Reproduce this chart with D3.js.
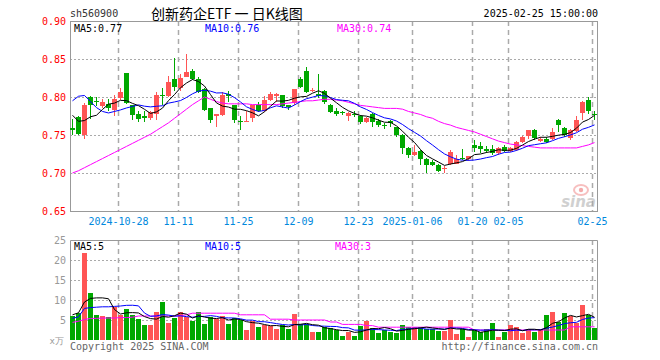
<!DOCTYPE html>
<html>
<head>
<meta charset="utf-8">
<script src="https://cdn.jsdelivr.net/npm/d3@7"></script>
<style>
  body { margin: 0; background: #fff; }
  svg { display: block; }
</style>
</head>
<body>
<div id="chart"></div>
<script>
// trading days shown (88 candles)
var dates = [
  "2024-10-16","2024-10-17","2024-10-18","2024-10-21","2024-10-22","2024-10-23","2024-10-24","2024-10-25",
  "2024-10-28","2024-10-29","2024-10-30","2024-10-31","2024-11-01","2024-11-04","2024-11-05","2024-11-06",
  "2024-11-07","2024-11-08","2024-11-11","2024-11-12","2024-11-13","2024-11-14","2024-11-15","2024-11-18",
  "2024-11-19","2024-11-20","2024-11-21","2024-11-22","2024-11-25","2024-11-26","2024-11-27","2024-11-28",
  "2024-11-29","2024-12-02","2024-12-03","2024-12-04","2024-12-05","2024-12-06","2024-12-09","2024-12-10",
  "2024-12-11","2024-12-12","2024-12-13","2024-12-16","2024-12-17","2024-12-18","2024-12-19","2024-12-20",
  "2024-12-23","2024-12-24","2024-12-25","2024-12-26","2024-12-27","2024-12-30","2024-12-31","2025-01-02",
  "2025-01-03","2025-01-06","2025-01-07","2025-01-08","2025-01-09","2025-01-10","2025-01-13","2025-01-14",
  "2025-01-15","2025-01-16","2025-01-17","2025-01-20","2025-01-21","2025-01-22","2025-01-23","2025-01-24",
  "2025-01-27","2025-02-05","2025-02-06","2025-02-07","2025-02-10","2025-02-11","2025-02-12","2025-02-13",
  "2025-02-14","2025-02-17","2025-02-18","2025-02-19","2025-02-20","2025-02-21","2025-02-24","2025-02-25"
];

var open = [
  0.759,0.774,0.751,0.800,0.795,0.789,0.791,0.783,0.799,0.832,0.789,0.778,0.775,0.772,0.777,0.802,
  0.802,0.824,0.812,0.827,0.834,0.824,0.811,0.785,0.775,0.777,0.804,0.789,0.769,0.768,0.772,0.789,
  0.781,0.796,0.802,0.802,0.789,0.791,0.824,0.834,0.808,0.804,0.808,0.790,0.781,0.780,0.775,0.777,
  0.775,0.768,0.778,0.769,0.763,0.768,0.760,0.750,0.733,0.724,0.729,0.719,0.715,0.711,0.705,0.712,
  0.713,0.720,0.718,0.737,0.736,0.732,0.731,0.726,0.734,0.729,0.731,0.742,0.748,0.756,0.743,0.745,
  0.745,0.770,0.759,0.746,0.756,0.780,0.796,0.778
];
var high = [
  0.771,0.775,0.792,0.801,0.800,0.798,0.798,0.803,0.812,0.832,0.790,0.782,0.781,0.781,0.807,0.812,
  0.827,0.851,0.830,0.856,0.837,0.826,0.812,0.786,0.778,0.807,0.808,0.790,0.775,0.781,0.790,0.794,
  0.801,0.807,0.805,0.803,0.790,0.811,0.826,0.840,0.812,0.830,0.809,0.791,0.785,0.782,0.780,0.781,
  0.776,0.774,0.779,0.771,0.766,0.770,0.761,0.751,0.734,0.737,0.730,0.720,0.717,0.712,0.709,0.730,
  0.724,0.731,0.723,0.744,0.741,0.736,0.737,0.734,0.737,0.734,0.742,0.749,0.757,0.758,0.747,0.748,
  0.759,0.771,0.761,0.758,0.775,0.795,0.800,0.782
];
var low = [
  0.750,0.750,0.745,0.771,0.788,0.786,0.782,0.775,0.796,0.791,0.770,0.767,0.767,0.770,0.770,0.790,
  0.800,0.808,0.808,0.826,0.822,0.805,0.782,0.766,0.761,0.775,0.793,0.766,0.757,0.767,0.767,0.780,
  0.780,0.795,0.794,0.786,0.783,0.790,0.812,0.805,0.806,0.799,0.791,0.779,0.775,0.776,0.768,0.774,
  0.764,0.766,0.761,0.760,0.758,0.761,0.748,0.725,0.720,0.722,0.711,0.700,0.709,0.701,0.700,0.710,
  0.712,0.717,0.716,0.728,0.726,0.726,0.724,0.724,0.727,0.728,0.729,0.740,0.745,0.744,0.741,0.740,
  0.744,0.754,0.748,0.744,0.754,0.770,0.778,0.770
];
var close = [
  0.756,0.751,0.790,0.789,0.794,0.794,0.786,0.797,0.807,0.792,0.776,0.771,0.773,0.780,0.802,0.801,
  0.820,0.813,0.825,0.833,0.824,0.807,0.783,0.769,0.778,0.803,0.801,0.769,0.768,0.769,0.789,0.781,
  0.796,0.804,0.804,0.788,0.786,0.810,0.813,0.807,0.809,0.802,0.793,0.781,0.777,0.779,0.779,0.776,
  0.767,0.773,0.768,0.764,0.762,0.766,0.750,0.733,0.724,0.728,0.719,0.711,0.711,0.703,0.706,0.728,
  0.719,0.719,0.722,0.733,0.732,0.729,0.726,0.733,0.729,0.733,0.741,0.748,0.756,0.745,0.745,0.741,
  0.754,0.764,0.750,0.757,0.770,0.794,0.781,0.777
];

// volume, unit: 万
var volume = [
  6.0,6.8,21.8,11.8,6.25,6.0,5.7,8.3,6.25,7.75,6.25,5.25,3.75,3.75,7.1,9.6,
  4.3,5.6,7.1,5.7,4.8,7.1,4.0,5.7,5.2,6.0,4.0,5.4,5.0,2.5,4.8,3.3,
  3.75,3.5,2.75,3.75,2.75,6.5,3.9,3.9,2.1,2.1,3.3,2.9,2.5,1.0,2.1,1.0,
  3.6,4.8,2.9,1.8,2.5,2.1,1.8,3.75,3.2,3.2,3.2,2.75,2.75,2.25,2.25,5.0,
  1.5,2.75,0.75,2.5,2.1,2.7,4.2,0.75,2.1,3.75,3.2,1.7,2.7,2.1,2.7,6.25,
  7.1,4.6,6.8,6.0,4.3,8.75,6.25,3.1
];

// moving averages at the start of the window (earlier days are off-chart)
var ma5Head = [0.776, 0.768, 0.769, 0.774];
var ma10Head = [0.795, 0.801, 0.802, 0.794, 0.786, 0.781, 0.779, 0.781, 0.783];
var ma30 = [
  0.700,0.703,0.707,0.711,0.715,0.719,0.723,0.727,0.731,0.735,0.739,0.743,0.747,0.751,0.756,0.761,
  0.766,0.772,0.778,0.784,0.790,0.795,0.800,0.797,0.794,0.792,0.791,0.791,0.791,0.791,0.790,0.790,
  0.790,0.790,0.790,0.791,0.792,0.793,0.794,0.795,0.795,0.796,0.797,0.797,0.796,0.795,0.793,0.791,
  0.789,0.788,0.787,0.786,0.785,0.785,0.785,0.784,0.781,0.779,0.777,0.774,0.772,0.768,0.765,0.763,
  0.760,0.758,0.756,0.754,0.751,0.748,0.745,0.742,0.740,0.738,0.737,0.736,0.735,0.734,0.733,0.733,
  0.733,0.733,0.733,0.733,0.733,0.735,0.737,0.740
];
var volMa5Head = [6.3, 6.8, 9.5, 10.4];
var volMa10Head = [5.4, 5.8, 7.9, 8.1, 8.2, 8.3, 8.3, 8.4, 8.5];
var volMa30 = [
  4.4,4.7,5.1,5.4,5.4,5.5,5.5,5.5,5.6,5.6,5.7,6.0,6.0,6.0,6.0,6.0,
  6.0,6.0,6.1,6.3,6.7,6.7,6.7,6.7,6.7,6.7,6.7,6.7,6.3,6.3,6.3,6.3,
  6.3,5.2,5.2,5.2,5.2,5.0,5.0,5.0,5.0,5.0,5.0,4.5,4.5,3.9,3.9,3.9,
  3.9,3.6,3.6,3.2,3.2,3.2,3.2,3.2,3.2,3.2,3.2,3.2,3.2,3.2,3.2,3.2,
  3.2,3.2,3.2,2.5,2.5,2.5,2.5,2.5,2.5,2.5,2.5,2.5,2.5,2.5,2.5,2.5,
  2.5,2.5,2.5,3.3,3.3,3.3,3.3,3.3
];

var priceTicks = [0.90, 0.85, 0.80, 0.75, 0.70, 0.65];
var volTicks = [25, 20, 15, 10, 5];
var tickDates = ["2024-10-28","2024-11-11","2024-11-25","2024-12-09","2024-12-23","2025-01-06","2025-01-20","2025-02-05","2025-02-25"];
var tickLabels = ["2024-10-28","11-11","11-25","12-09","12-23","2025-01-06","01-20","02-05","02-25"];

var RED = "#ff5555", GREEN = "#00a800";
var MONO = "'DejaVu Sans Mono', monospace";

function movingAvg(arr, n, head) {
    return arr.map(function (v, i) {
        if (i < n - 1) return head[i];
        return d3.mean(arr.slice(i - n + 1, i + 1));
    });
}
var ma5 = movingAvg(close, 5, ma5Head),
    ma10 = movingAvg(close, 10, ma10Head),
    volMa5 = movingAvg(volume, 5, volMa5Head),
    volMa10 = movingAvg(volume, 10, volMa10Head);

var svg = d3.select("#chart").append("svg")
    .attr("width", 660)
    .attr("height", 360);

// scales
var left = 70, right = 597;
var x = d3.scaleBand().domain(d3.range(dates.length)).range([69, 69 + 6 * dates.length]);
var yP = d3.scaleLinear().domain([0.65, 0.90]).range([211, 21]);
var yV = d3.scaleLinear().domain([0, 25]).range([340, 240]);
function cx(i) { return x(i) + 3.5; }

// ---------- header ----------
svg.append("text").attr("x", 70).attr("y", 17)
    .style("font-family", MONO).style("font-size", "10px").attr("fill", "#333")
    .text("sh560900");
svg.append("text").attr("x", 151).attr("y", 19)
    .style("font-family", "'Noto Sans CJK SC', sans-serif").style("font-size", "14px").attr("fill", "#000")
    .text("创新药企ETF 一 日K线图");
svg.append("text").attr("x", 598).attr("y", 17).attr("text-anchor", "end")
    .style("font-family", MONO).style("font-size", "10px").attr("fill", "#000")
    .text("2025-02-25 15:00:00");

// ---------- grids ----------
function drawPanelGrid(yScale, ticks, top, bottom) {
    svg.append("g").selectAll("line")
        .data(ticks.filter(function (t) { return yScale(t) > top + 1 && yScale(t) < bottom - 1; }))
        .enter().append("line")
        .attr("x1", left).attr("x2", right)
        .attr("y1", function (d) { return Math.round(yScale(d)) + 0.5; })
        .attr("y2", function (d) { return Math.round(yScale(d)) + 0.5; })
        .attr("stroke", "#aaa").attr("stroke-dasharray", "2,2");
    svg.append("g").selectAll("line")
        .data(tickDates)
        .enter().append("line")
        .attr("x1", function (d) { return x(dates.indexOf(d)) + 1.5; })
        .attr("x2", function (d) { return x(dates.indexOf(d)) + 1.5; })
        .attr("y1", top).attr("y2", bottom)
        .attr("stroke", "#aaa").attr("stroke-width", 1.5).attr("stroke-dasharray", "5,4");
}
drawPanelGrid(yP, priceTicks, 21, 211);
drawPanelGrid(yV, volTicks, 240, 340);

// borders
svg.append("rect").attr("x", left + 0.5).attr("y", 21.5)
    .attr("width", right - left).attr("height", 190)
    .attr("fill", "none").attr("stroke", "#999");
svg.append("path")
    .attr("d", "M" + (left + 0.5) + ",340V240.5H" + (right + 0.5) + "V340")
    .attr("fill", "none").attr("stroke", "#999");

// price axis labels
svg.append("g").selectAll("text")
    .data(priceTicks).enter().append("text")
    .attr("x", 66).attr("y", function (d) { return yP(d) + 4; })
    .attr("text-anchor", "end")
    .style("font-family", MONO).style("font-size", "10px").attr("fill", "#f00")
    .text(function (d) { return d.toFixed(2); });

// date labels
svg.append("g").selectAll("text")
    .data(tickDates).enter().append("text")
    .attr("x", function (d) { return x(dates.indexOf(d)) + 1.5; })
    .attr("y", 225)
    .attr("text-anchor", "middle")
    .style("font-family", MONO).style("font-size", "10px").attr("fill", "#0088dd")
    .text(function (d, i) { return tickLabels[i]; });

// volume axis labels
svg.append("g").selectAll("text")
    .data(volTicks).enter().append("text")
    .attr("x", 66).attr("y", function (d) { return yV(d) + 4; })
    .attr("text-anchor", "end")
    .style("font-family", MONO).style("font-size", "10px").attr("fill", "#999")
    .text(function (d) { return d; });
svg.append("text").attr("x", 64).attr("y", 344).attr("text-anchor", "end")
    .style("font-family", MONO).style("font-size", "9px").attr("fill", "#999")
    .text("x万");

// sina watermark
var logo = svg.append("g").attr("opacity", 0.55);
logo.append("ellipse").attr("cx", 581).attr("cy", 190).attr("rx", 7).attr("ry", 5)
    .attr("fill", "none").attr("stroke", "#f28b8b").attr("stroke-width", 2);
logo.append("circle").attr("cx", 581).attr("cy", 190).attr("r", 2.2).attr("fill", "#e66");
logo.append("text").attr("x", 596).attr("y", 207).attr("text-anchor", "end")
    .style("font-family", "'DejaVu Sans', sans-serif").style("font-size", "15px")
    .style("font-weight", "bold").style("font-style", "italic")
    .attr("fill", "#aaa").text("sina");

// ---------- candles ----------
var candles = svg.append("g");
candles.selectAll("line")
    .data(d3.range(dates.length)).enter().append("line")
    .attr("x1", cx).attr("x2", cx)
    .attr("y1", function (i) { return Math.round(yP(high[i])); })
    .attr("y2", function (i) { return Math.round(yP(low[i])); })
    .attr("stroke", function (i) { return close[i] >= open[i] ? RED : GREEN; });
candles.selectAll("rect")
    .data(d3.range(dates.length)).enter().append("rect")
    .attr("x", function (i) { return x(i) + 1; })
    .attr("width", 5)
    .attr("y", function (i) { return Math.round(yP(Math.max(open[i], close[i]))); })
    .attr("height", function (i) {
        return Math.max(1, Math.round(yP(Math.min(open[i], close[i])) - yP(Math.max(open[i], close[i]))));
    })
    .attr("fill", function (i) { return close[i] >= open[i] ? RED : GREEN; });

// ---------- volume bars ----------
svg.append("g").selectAll("rect")
    .data(d3.range(dates.length)).enter().append("rect")
    .attr("x", function (i) { return x(i) + 1; })
    .attr("width", 5)
    .attr("y", function (i) { return Math.round(yV(volume[i])); })
    .attr("height", function (i) { return 340 - Math.round(yV(volume[i])); })
    .attr("fill", function (i) { return close[i] >= open[i] ? RED : GREEN; });

// ---------- MA lines ----------
function drawLine(values, yScale, color) {
    var line = d3.line()
        .x(function (d, i) { return cx(i); })
        .y(function (d) { return yScale(d); });
    svg.append("path").datum(values)
        .attr("d", line)
        .attr("fill", "none").attr("stroke", color).attr("stroke-width", 1);
}
drawLine(ma30, yP, "#ff00ff");
drawLine(ma10, yP, "#0000ff");
drawLine(ma5, yP, "#000");
drawLine(volMa30, yV, "#ff00ff");
drawLine(volMa10, yV, "#0000ff");
drawLine(volMa5, yV, "#000");

// ---------- legends ----------
function trunc2(v) { return (Math.floor(v * 100 + 1e-6) / 100).toFixed(2); }
var last = dates.length - 1;
var legendP = [
    { x: 74, color: "#000", text: "MA5:" + trunc2(ma5[last]) },
    { x: 205, color: "#0000ff", text: "MA10:" + trunc2(ma10[last]) },
    { x: 337, color: "#ff00ff", text: "MA30:" + trunc2(ma30[last]) }
];
var legendV = [
    { x: 74, color: "#000", text: "MA5:" + Math.floor(volMa5[last]) },
    { x: 205, color: "#0000ff", text: "MA10:" + Math.floor(volMa10[last]) },
    { x: 335, color: "#ff00ff", text: "MA30:" + Math.floor(volMa30[last]) }
];
[[legendP, 32], [legendV, 250]].forEach(function (pair) {
    svg.append("g").selectAll("text")
        .data(pair[0]).enter().append("text")
        .attr("x", function (d) { return d.x; }).attr("y", pair[1])
        .style("font-family", MONO).style("font-size", "10px")
        .attr("fill", function (d) { return d.color; })
        .text(function (d) { return d.text; });
});

// ---------- footer ----------
svg.append("text").attr("x", 70).attr("y", 350)
    .style("font-family", MONO).style("font-size", "10px").attr("fill", "#666")
    .text("Copyright 2025 SINA.COM");
svg.append("text").attr("x", 598).attr("y", 350).attr("text-anchor", "end")
    .style("font-family", MONO).style("font-size", "10px").attr("fill", "#666")
    .text("http://finance.sina.com.cn");
</script>
</body>
</html>
